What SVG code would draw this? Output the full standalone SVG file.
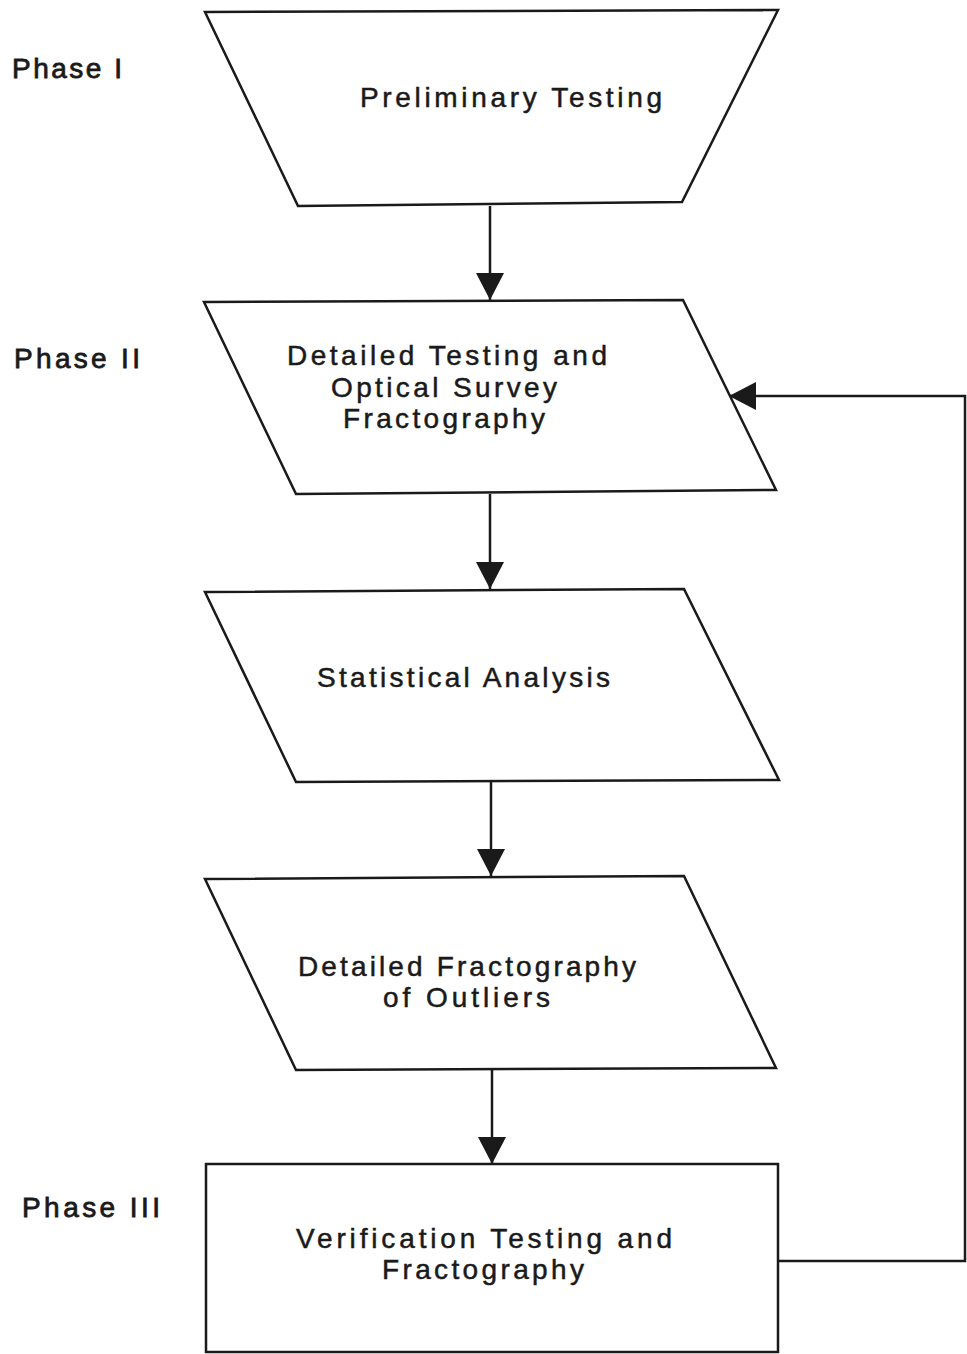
<svg xmlns="http://www.w3.org/2000/svg" width="967" height="1354" viewBox="0 0 967 1354">
<style>
.shape{fill:#fff;stroke:#1a1a1a;stroke-width:2.5;stroke-linejoin:miter}
.conn{fill:none;stroke:#1a1a1a;stroke-width:2.5}
.t{font-family:"Liberation Sans",Arial,sans-serif;font-size:28px;fill:#1a1a1a;stroke:#1a1a1a;stroke-width:0.5}
.ph{font-family:"Liberation Sans",Arial,sans-serif;font-size:28px;fill:#1a1a1a;stroke:#1a1a1a;stroke-width:0.8}
</style>
<defs>
<marker id="ah" markerUnits="userSpaceOnUse" markerWidth="28" markerHeight="28" viewBox="0 0 28 28" refX="27" refY="14" orient="auto">
<path d="M0,0 L27,14 L0,28 Z" fill="#1a1a1a"/>
</marker>
</defs>
<rect width="967" height="1354" fill="#fff"/>
<g id="labels">
<text class="ph" x="12" y="78" textLength="110" lengthAdjust="spacing">Phase I</text>
<text class="ph" x="14" y="368" textLength="126" lengthAdjust="spacing">Phase II</text>
<text class="ph" x="22" y="1217" textLength="138" lengthAdjust="spacing">Phase III</text>
</g>
<g id="connectors">
<line class="conn" x1="490" y1="206" x2="490" y2="300" marker-end="url(#ah)"/>
<line class="conn" x1="490" y1="494" x2="490" y2="589" marker-end="url(#ah)"/>
<line class="conn" x1="491" y1="782" x2="491" y2="876" marker-end="url(#ah)"/>
<line class="conn" x1="492" y1="1070" x2="492" y2="1164" marker-end="url(#ah)"/>
<polyline class="conn" points="778,1261 965,1261 965,396 729,396" marker-end="url(#ah)"/>
</g>
<g id="n1">
<polygon class="shape" points="205,12 778,10 682,202 298,206"/>
<text class="t" x="360" y="107" textLength="302" lengthAdjust="spacing">Preliminary Testing</text>
</g>
<g id="n2">
<polygon class="shape" points="204,302 683,300 776,490 296,494"/>
<text class="t" x="287" y="365" textLength="320" lengthAdjust="spacing">Detailed Testing and</text>
<text class="t" x="331" y="397" textLength="226" lengthAdjust="spacing">Optical Survey</text>
<text class="t" x="343" y="428" textLength="202" lengthAdjust="spacing">Fractography</text>
</g>
<g id="n3">
<polygon class="shape" points="205,592 684,589 779,780 296,782"/>
<text class="t" x="317" y="687" textLength="293" lengthAdjust="spacing">Statistical Analysis</text>
</g>
<g id="n4">
<polygon class="shape" points="205,879 684,876 776,1068 296,1070"/>
<text class="t" x="298" y="976" textLength="338" lengthAdjust="spacing">Detailed Fractography</text>
<text class="t" x="383" y="1007" textLength="167" lengthAdjust="spacing">of Outliers</text>
</g>
<g id="n5">
<rect class="shape" x="206" y="1164" width="572" height="188"/>
<text class="t" x="296" y="1248" textLength="376" lengthAdjust="spacing">Verification Testing and</text>
<text class="t" x="382" y="1279" textLength="202" lengthAdjust="spacing">Fractography</text>
</g>
</svg>
